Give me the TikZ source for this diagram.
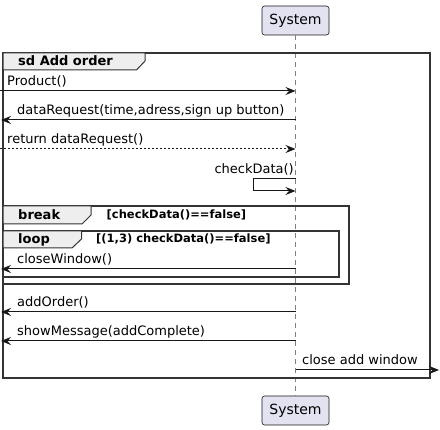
\documentclass[tikz,border=0pt]{standalone}
\usepackage{fontspec}
\setmainfont{DejaVu Sans}
\usetikzlibrary{arrows.meta}
\definecolor{boxfill}{HTML}{E2E2F0}
\definecolor{tabfill}{HTML}{EEEEEE}
\definecolor{ink}{HTML}{181818}

\begin{document}
\begin{tikzpicture}[x=1pt,y=-1pt,
  participant/.style={draw=ink,fill=boxfill,rounded corners=2.5pt,line width=0.6pt,
    minimum width=67pt,minimum height=29pt,inner sep=0pt,font=\fontsize{14}{16}\selectfont},
  lifeline/.style={ink!55,line width=0.5pt,dash pattern=on 5pt off 4pt},
  msg/.style={ink,line width=1pt,-{Stealth[length=10pt,width=8pt,inset=3.5pt]}},
  reply/.style={msg,dash pattern=on 2pt off 2pt},
  lbl/.style={anchor=base west,inner sep=0pt,font=\fontsize{13}{15}\selectfont},
  fragment/.style={draw=black!80,line width=1.5pt},
  tab/.style={draw=black!80,line width=1pt,fill=tabfill},
  tabtxt/.style={anchor=base west,inner sep=0pt,font=\bfseries\fontsize{13}{15}\selectfont},
  guard/.style={anchor=base west,inner sep=0pt,font=\bfseries\fontsize{11.5}{13}\selectfont}]
  \useasboundingbox (0,0) rectangle (440,430);

  % participant at top and bottom
  \node[participant] (systop) at (295.5,20.5) {System};
  \node[participant] (sysbot) at (295.5,410.5) {System};
  \draw[lifeline] (systop) -- (sysbot);

  % combined fragments
  \draw[fragment] (3,53) rectangle (430,378);
  \draw[tab] (3,53) -- (145,53) -- (145,61) -- (136.5,70) -- (3,70) -- cycle;
  \node[tabtxt] (sdname) at (18,66) {sd Add order};
  \draw[fragment] (3,206) rectangle (349,284);
  \draw[tab] (3,206) -- (91,206) -- (91,215) -- (82,224) -- (3,224) -- cycle;
  \node[tabtxt] (breakname) at (18,220) {break};
  \node[guard] (breakguard) at (106.5,219) {[checkData()==false]};
  \draw[fragment] (3,231) rectangle (339,277);
  \draw[tab] (3,231) -- (81.5,231) -- (81.5,239) -- (72,248) -- (3,248) -- cycle;
  \node[tabtxt] (loopname) at (18,243.5) {loop};
  \node[guard] (loopguard) at (96,242.5) {[(1,3) checkData()==false]};

  % messages from the left edge
  \coordinate (gprod) at (0,91);    \coordinate (sprod) at (295.5,91);
  \coordinate (gret) at (0,149);    \coordinate (sret) at (295.5,149);
  \draw[msg] (gprod) -- (sprod);
  \node[lbl] (lprod) at (7,86) {Product()};
  \draw[reply] (gret) -- (sret);
  \node[lbl] (lret) at (7,144) {return dataRequest()};

  % messages back to the left edge
  \foreach \y/\name/\txt in {120/req/{dataRequest(time,adress,sign up button)},
      269/close/{closeWindow()}, 312/add/{addOrder()}, 341/show/{showMessage(addComplete)}}{
    \coordinate (s\name) at (295.5,\y);
    \coordinate (g\name) at (1,\y);
    \draw[msg] (s\name) -- (g\name);
    \node[lbl] (l\name) at (17,\y-5) {\txt};
  }

  % self call
  \coordinate (chka) at (295.5,179);
  \coordinate (chkb) at (295.5,191);
  \draw[msg] (chka) -- (253,179) -- (253,191) -- (chkb);
  \node[lbl,anchor=base east] (lchk) at (294,173.5) {checkData()};

  % out to the right edge
  \coordinate (swin) at (295.5,370);
  \coordinate (gwin) at (439,370);
  \draw[msg] (swin) -- (gwin);
  \node[lbl] (lwin) at (302,365) {close add window};

\end{tikzpicture}
\end{document}
